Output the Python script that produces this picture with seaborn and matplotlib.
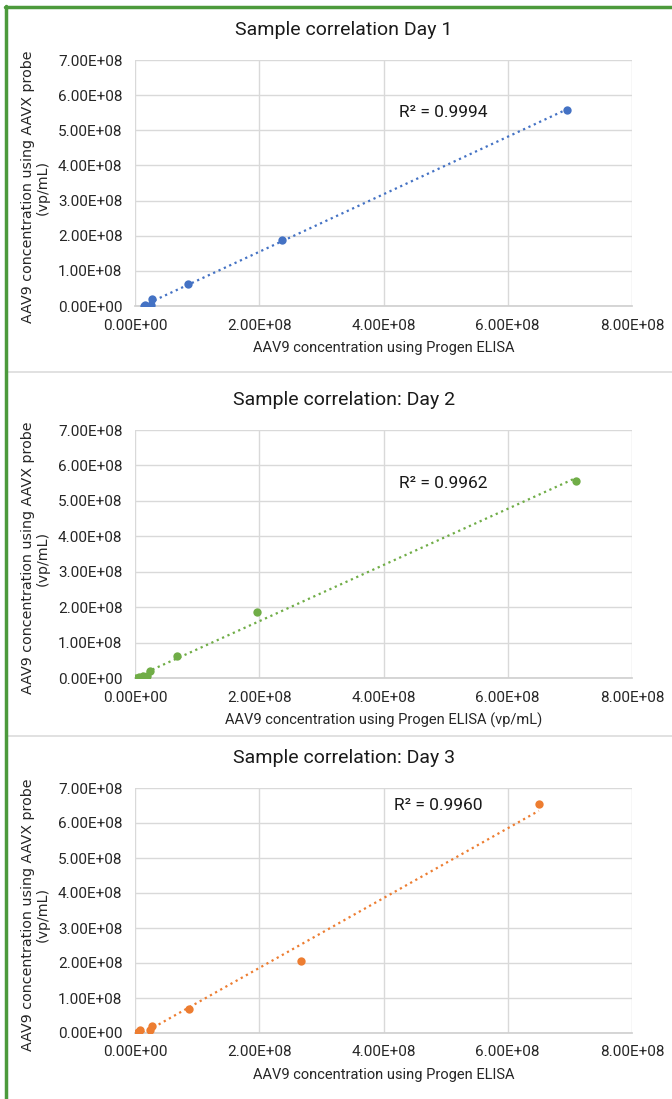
import matplotlib
matplotlib.use("Agg")
import matplotlib.pyplot as plt
import matplotlib.lines as mlines
import matplotlib.ticker as mticker
import seaborn as sns
import numpy as np
import pandas as pd

# ---- data ----
day1_progen = [1.4e7, 1.6e7, 2.5e7, 2.8e7, 8.5e7, 2.37e8, 6.95e8]
day1_aavx = [0.0, 2.0e6, 2.0e6, 2.1e7, 6.3e7, 1.88e8, 5.58e8]

day2_progen = [2.0e6, 7.0e6, 1.3e7, 1.9e7, 2.4e7, 6.8e7, 1.97e8, 7.1e8]
day2_aavx = [0.0, 2.0e6, 5.0e6, 7.0e6, 2.0e7, 6.1e7, 1.86e8, 5.57e8]

day3_progen = [5.0e6, 8.0e6, 2.4e7, 2.7e7, 8.7e7, 2.68e8, 6.5e8]
day3_aavx = [3.0e6, 1.0e7, 1.0e7, 1.9e7, 6.9e7, 2.05e8, 6.55e8]

titles = ["Sample correlation Day 1", "Sample correlation: Day 2", "Sample correlation: Day 3"]
xlabels = ["AAV9 concentration using Progen ELISA",
           "AAV9 concentration using Progen ELISA (vp/mL)",
           "AAV9 concentration using Progen ELISA"]
ylabel = "AAV9 concentration using AAVX probe\n(vp/mL)"
r2_labels = ["R² = 0.9994", "R² = 0.9962", "R² = 0.9960"]
colors = ["#4472C4", "#70AD47", "#ED7D31"]

W, H = 672, 1099

sns.set_theme(style="whitegrid")
plt.rcParams["font.family"] = ["Roboto", "DejaVu Sans"]


def px_rect(left, top, right, bottom):
    return [left / W, 1 - bottom / H, (right - left) / W, (bottom - top) / H]


fig = plt.figure(figsize=(W / 100, H / 100), dpi=100)
fig.patch.set_facecolor("white")

# plot areas (left, top, right, bottom) in pixels
panels = [
    (135, 60, 632, 306),
    (135, 430, 632, 678),
    (135, 788, 632, 1033),
]
r2_pos = [(0.62, 0.785), (0.62, 0.786), (0.61, 0.93)]

datasets = [
    pd.DataFrame({"progen": day1_progen, "aavx": day1_aavx}),
    pd.DataFrame({"progen": day2_progen, "aavx": day2_aavx}),
    pd.DataFrame({"progen": day3_progen, "aavx": day3_aavx}),
]

fmt = mticker.FuncFormatter(lambda v, p: f"{v:.2E}")

for i, (df, rect) in enumerate(zip(datasets, panels)):
    ax = fig.add_axes(px_rect(*rect))
    sns.regplot(data=df, x="progen", y="aavx", ax=ax, ci=None, color=colors[i],
                scatter_kws={"s": 36, "alpha": 1, "linewidths": 0, "zorder": 3},
                line_kws={"linestyle": ":", "linewidth": 1.6})
    ax.set_xlim(0, 8e8)
    ax.set_ylim(0, 7e8)
    ax.xaxis.set_major_locator(mticker.MultipleLocator(2e8))
    ax.yaxis.set_major_locator(mticker.MultipleLocator(1e8))
    ax.xaxis.set_major_formatter(fmt)
    ax.yaxis.set_major_formatter(fmt)
    ax.grid(True, color="#d9d9d9", linewidth=1)
    for s in ["top", "right", "left"]:
        ax.spines[s].set_visible(False)
    ax.spines["bottom"].set_color("#d0d0d0")
    ax.tick_params(axis="both", labelsize=11, colors="#262626", length=0)
    ax.tick_params(axis="x", pad=9)
    ax.tick_params(axis="y", pad=9)
    ax.set_xlabel("")
    ax.set_ylabel("")

    left, top, right, bottom = rect
    fig.text(344 / W, 1 - (top - 30) / H, titles[i],
             ha="center", va="center", fontsize=14, color="#1a1a1a")
    fig.text((left + right) / 2 / W, 1 - (bottom + 42) / H, xlabels[i],
             ha="center", va="center", fontsize=10.5, color="#262626")
    fig.text(35 / W, 1 - ((top + bottom) / 2 + 4) / H, ylabel, rotation=90,
             ha="center", va="center", fontsize=10.3, color="#262626",
             family=["DejaVu Sans"], linespacing=1.05)
    ax.text(r2_pos[i][0], r2_pos[i][1], r2_labels[i], transform=ax.transAxes,
            ha="center", va="center", fontsize=12.5, color="#1a1a1a")

# panel dividers
for y in (372, 736):
    fig.add_artist(mlines.Line2D([8 / W, 1], [1 - y / H, 1 - y / H],
                                 color="#dcdcdc", linewidth=1.2))

# green frame (left and top)
green = "#4C9A3C"
fig.add_artist(mlines.Line2D([6 / W, 6 / W], [0, 1 - 6 / H], color=green, linewidth=2.5))
fig.add_artist(mlines.Line2D([5 / W, 1], [1 - 7 / H, 1 - 7 / H], color=green, linewidth=2.5))

fig.savefig("out.png", dpi=100)
